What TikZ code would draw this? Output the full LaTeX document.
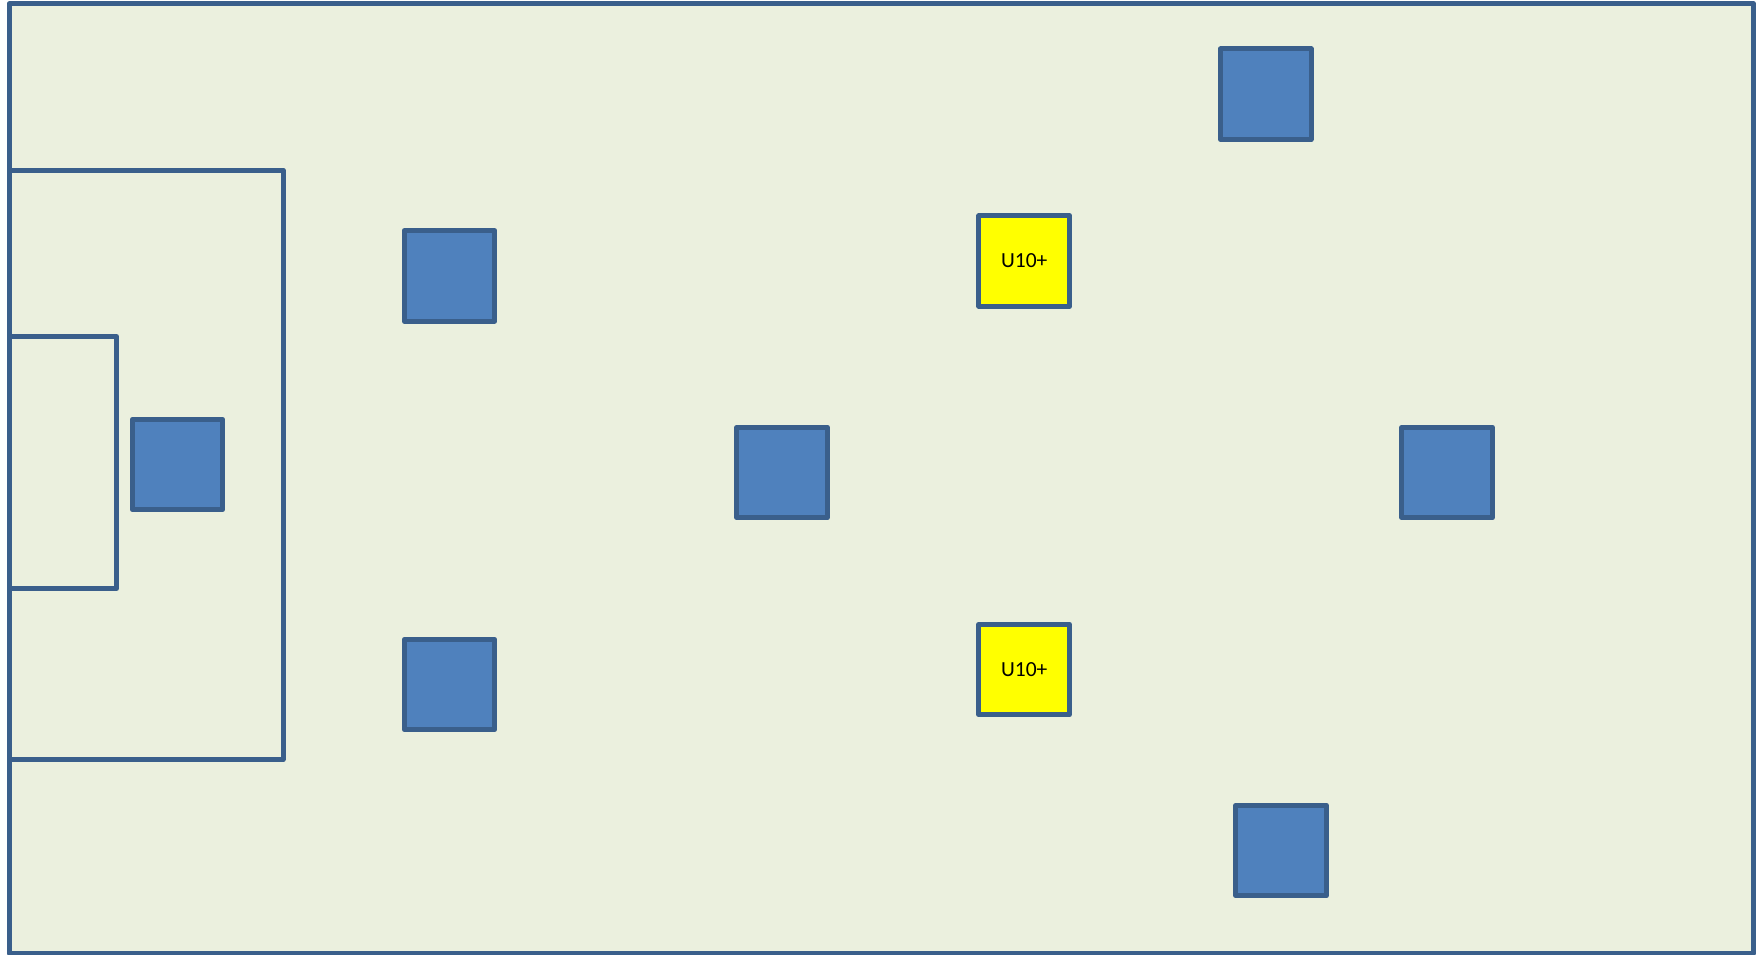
\documentclass[tikz,border=0pt]{standalone}
\usepackage{fontspec}
\setmainfont{Carlito}
\definecolor{pitch}{HTML}{EBF0DE}
\definecolor{line}{HTML}{3A5F8B}
\definecolor{player}{HTML}{4F81BD}
\definecolor{sub}{RGB}{255,255,0}
\begin{document}
\begin{tikzpicture}[x=1pt,y=-1pt,
  fieldline/.style={draw=line,line width=5pt,line join=round},
  playerbox/.style={draw=line,fill=player,line width=5pt,line join=round,minimum width=90.5pt,minimum height=90.5pt,inner sep=0pt,outer sep=0pt},
  u10box/.style={playerbox,fill=sub,font=\fontsize{21.5}{24}\selectfont,text=black}]
\useasboundingbox (0,0) rectangle (1764,954);
% pitch
\draw[fieldline,fill=pitch] (9.2,3.8) rectangle (1753.5,953);
% penalty area and goal area
\draw[fieldline] (9.2,170) -- (283,170) -- (283,759.5) -- (9.2,759.5);
\draw[fieldline] (9.2,336.5) -- (116.5,336.5) -- (116.5,588.5) -- (9.2,588.5);
% players
\node[playerbox] (gk) at (177.5,464.5) {};
\node[playerbox] (dl) at (449.5,275.8) {};
\node[playerbox] (dr) at (449.5,684.5) {};
\node[playerbox] (mc) at (782.2,472.5) {};
\node[playerbox] (fw) at (1447.2,472.5) {};
\node[playerbox] (wt) at (1265.8,94.2) {};
\node[playerbox] (wb) at (1281.2,850.5) {};
\node[u10box] (ut) at (1024.2,261) {\raisebox{-0.5pt}{U10+}};
\node[u10box] (ub) at (1024.2,669.5) {\raisebox{-0.5pt}{U10+}};
\end{tikzpicture}
\end{document}
